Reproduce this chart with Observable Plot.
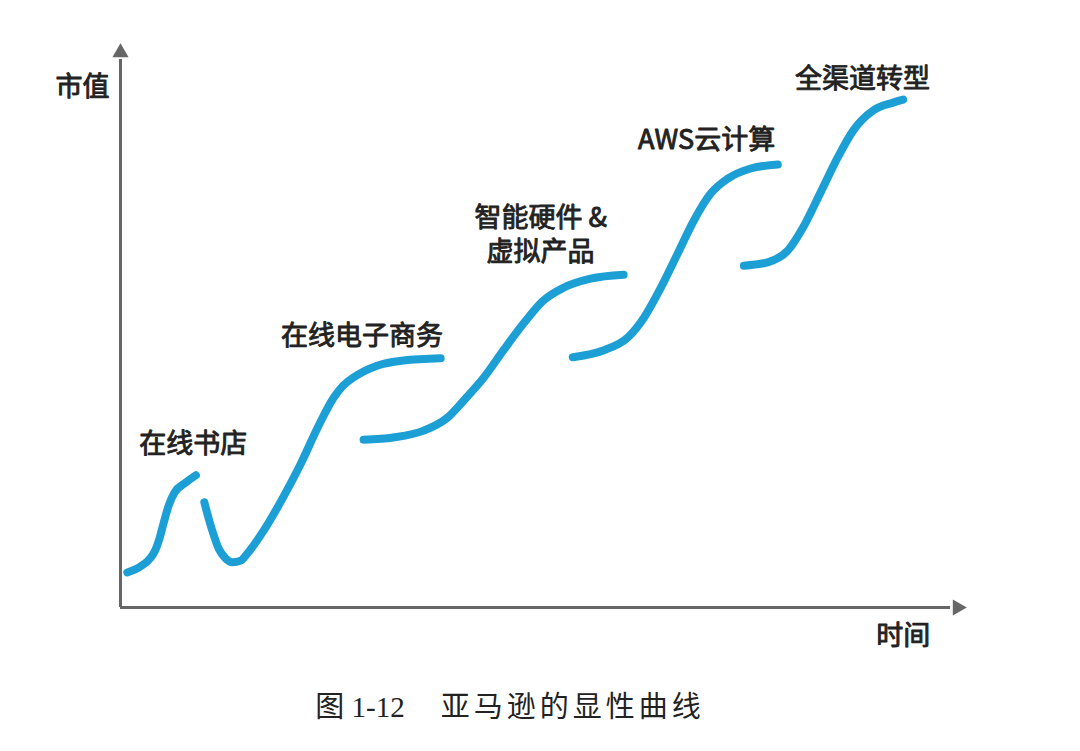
<!DOCTYPE html>
<html>
<head>
<meta charset="utf-8">
<script src="https://cdn.jsdelivr.net/npm/d3@7"></script>
<script src="https://cdn.jsdelivr.net/npm/@observablehq/plot@0.6"></script>
<style>
  html, body { margin: 0; padding: 0; background: #fff; }
  #chart svg { display: block; }
  #caption {
    width: 1080px; box-sizing: border-box; padding-right: 60px;
    text-align: center; margin-top: 30px; line-height: 34px;
    font-family: "Liberation Serif", "Noto Sans CJK SC", serif;
    font-size: 29px; color: #222; white-space: pre;
  }
  #caption .t { letter-spacing: 4px; margin-left: 36px; }
</style>
</head>
<body>
<div id="chart"></div>
<div id="caption">图 1-12<span class="t">亚马逊的显性曲线</span></div>
<script>
// Curve segments (time, market value) in abstract units
const bookstoreX = [0.8, 2.4, 3.5, 4.1, 4.6, 5.1, 5.7, 6.4, 7.6, 8.9];
const bookstoreY = [6.2, 7.3, 8.7, 10.1, 12.2, 15.0, 18.1, 20.4, 22.0, 23.4];

const ecommerceX = [9.9, 10.4, 10.9, 11.6, 12.4, 13.2, 14.2, 15.0, 16.9, 19.2, 21.3, 23.3, 25.2, 26.3, 27.5, 30.3, 33.4, 37.8];
const ecommerceY = [18.6, 15.8, 13.3, 10.4, 8.7, 8.0, 8.3, 9.6, 13.6, 19.5, 25.5, 31.9, 37.2, 39.3, 40.7, 42.8, 43.7, 44.1];

const hardwareX = [28.7, 32.2, 35.8, 38.6, 40.5, 42.9, 45.2, 47.6, 49.9, 52.3, 55.5, 59.4];
const hardwareY = [29.7, 30.1, 31.3, 33.6, 36.6, 40.7, 45.5, 50.3, 54.3, 56.6, 58.2, 58.9];

const awsX = [53.4, 57.0, 59.9, 61.8, 63.8, 65.8, 67.7, 69.7, 71.7, 74.4, 77.6];
const awsY = [44.3, 45.5, 47.8, 51.3, 56.6, 62.7, 68.5, 73.3, 75.9, 77.7, 78.4];

const omniX = [73.6, 76.4, 78.8, 80.6, 82.6, 84.7, 86.5, 88.9, 91.3, 92.4];
const omniY = [60.5, 61.1, 63.2, 67.3, 73.3, 79.7, 84.4, 88.0, 89.4, 89.9];

// Stage labels and their positions (time, value)
const stageLabels = ["在线书店", "在线电子商务", "智能硬件 &\n虚拟产品", "AWS云计算", "全渠道转型"];
const stageLabelX = [8.6, 28.5, 49.6, 69.2, 87.6];
const stageLabelY = [29.2, 48.3, 66.2, 83.0, 93.8];

const axisLabels = ["市值", "时间"];
const axisLabelX = [-4.5, 92.4];
const axisLabelY = [92.0, -5.1];

const segments = [
  ["bookstore", bookstoreX, bookstoreY],
  ["ecommerce", ecommerceX, ecommerceY],
  ["hardware", hardwareX, hardwareY],
  ["aws", awsX, awsY],
  ["omni", omniX, omniY]
];
const curveData = segments.flatMap(([name, xs, ys]) => xs.map((x, i) => ({seg: name, x, y: ys[i]})));
const stageData = stageLabels.map((t, i) => ({t, x: stageLabelX[i], y: stageLabelY[i]}));
const axisData = axisLabels.map((t, i) => ({t, x: axisLabelX[i], y: axisLabelY[i]}));

const font = "'Noto Sans CJK SC', 'Noto Sans', sans-serif";
const axisColor = "#666";
const textStyle = {fontSize: 27, fontWeight: 400, fill: "#222", stroke: "#222", strokeWidth: 0.9, textAnchor: "middle"};

const chart = Plot.plot({
  width: 1080,
  height: 660,
  marginLeft: 120,
  marginRight: 113,
  marginTop: 42,
  marginBottom: 53,
  style: {fontFamily: font, background: "#fff"},
  x: {domain: [0, 100], axis: null},
  y: {domain: [0, 100], axis: null},
  marks: [
    Plot.ruleX([0], {y1: 0, y2: 97, stroke: axisColor, strokeWidth: 3}),
    Plot.ruleY([0], {x1: 0, x2: 98, stroke: axisColor, strokeWidth: 3}),
    Plot.dot([{x: 0, y: 100}], {x: "x", y: "y", symbol: "triangle", r: 6, fill: axisColor, stroke: "none", dy: 10}),
    Plot.dot([{x: 100, y: 0}], {x: "x", y: "y", symbol: "triangle", r: 6, fill: axisColor, stroke: "none", rotate: 90, dx: -10}),
    Plot.line(curveData, {x: "x", y: "y", z: "seg", curve: "monotone-x", stroke: "#1c9fd5", strokeWidth: 8, strokeLinecap: "round", strokeLinejoin: "round"}),
    Plot.text(stageData, {x: "x", y: "y", text: "t", lineHeight: 1.25, ...textStyle}),
    Plot.text(axisData, {x: "x", y: "y", text: "t", ...textStyle})
  ]
});
document.getElementById("chart").appendChild(chart);
</script>
</body>
</html>
